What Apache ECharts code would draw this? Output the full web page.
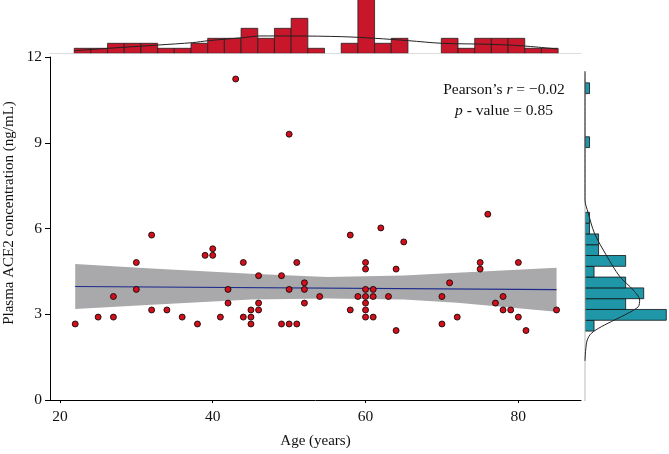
<!DOCTYPE html>
<html><head><meta charset="utf-8">
<script src="https://cdn.jsdelivr.net/npm/echarts@6/dist/echarts.min.js"></script>
<style>html,body{margin:0;padding:0;background:#fff}#c{width:669px;height:454px}</style>
</head><body><div id="c"></div>
<script>
// Scatter data
const ages   = [22,25,27,27,30,30,32,32,34,36,38,39,40,40,41,42,42,43,44,44,45,45,45,46,46,46,49,49,50,50,50,51,51,52,52,52,54,58,58,59,60,60,60,60,60,60,60,61,61,61,62,63,64,64,65,70,70,71,72,75,75,76,77,78,78,79,80,80,81,85];
const ace2   = [2.66,2.9,2.9,3.62,4.81,3.87,5.77,3.15,3.15,2.9,2.66,5.06,5.06,5.29,2.9,3.87,3.39,11.23,4.81,2.9,3.15,2.9,2.66,4.35,3.39,3.15,4.35,2.66,9.3,3.87,2.66,4.81,2.66,4.1,3.87,3.39,3.62,5.77,3.15,3.62,4.81,4.58,3.87,3.62,3.39,3.15,2.9,3.87,3.62,2.9,6.02,3.62,4.58,2.43,5.53,3.62,2.66,4.1,2.9,4.81,4.58,6.5,3.39,3.62,3.15,3.15,4.81,2.9,2.43,3.15];
// Regression line and confidence band
const fitAges = [22, 85];
const fitVals = [3.97, 3.86];
const bandAges = [22, 32, 45, 55, 65, 72, 85];
const bandLow  = [3.18, 3.33, 3.52, 3.55, 3.52, 3.40, 3.09];
const bandHigh = [4.76, 4.60, 4.42, 4.30, 4.36, 4.45, 4.63];
// Top marginal histogram (age)
const topBinStart = 21.87, topBinWidth = 2.184;
const topCounts = [1,1,2,2,2,1,1,2,3,3,5,3,5,7,1,0,2,11,2,3,0,0,3,1,3,3,3,1,1];
const topKdeAges = [21.88,26.33,32.97,37.34,39.43,43.9,46.2,50.57,56.9,61.27,65.63,70.0,76.33,80.7,85.07];
const topKdeVals = [0.53,1.0,1.67,2.13,2.53,3.13,3.47,3.47,3.33,3.0,2.53,2.0,1.8,1.47,0.87];
// Right marginal histogram (ACE2)
const rightBinStart = 2.44, rightBinWidth = 0.3765;
const rightCounts = [2,18,9,13,9,2,9,3,3,1,1,0,0,0,0,0,0,1,0,0,0,0,1];
const rightKdeVals = [11.5,7.01,6.58,5.85,5.09,4.34,3.87,3.52,3.29,3.06,2.83,2.59,2.36,2.13,1.78,1.4];
const rightKdeCnt  = [0,0,0.67,2.1,4.7,7.7,10.7,12.1,11.8,9.5,6.6,3.6,1.4,0.5,0.15,0];
// Axis ticks
const xTicks = [20,40,60,80];

const FONT = '"Liberation Serif","DejaVu Serif",serif';
const RED = '#c8162a', TEAL = '#1f97a8';

const topBins = topCounts.map((c,i)=>[topBinStart+i*topBinWidth, topBinStart+(i+1)*topBinWidth, c]);
const rightBins = rightCounts.map((c,i)=>[rightBinStart+i*rightBinWidth, rightBinStart+(i+1)*rightBinWidth, c]);

function rectTop(params, api){
  const c = api.value(2); if(!c) return null;
  const p0 = api.coord([api.value(0), c]), p1 = api.coord([api.value(1), 0]);
  return {type:'rect', shape:{x:p0[0], y:p0[1], width:p1[0]-p0[0], height:p1[1]-p0[1]},
    style:{fill:RED, stroke:'#222', lineWidth:0.8}};
}
function rectRight(params, api){
  const c = api.value(2); if(!c) return null;
  const p0 = api.coord([0, api.value(1)]), p1 = api.coord([c, api.value(0)]);
  return {type:'rect', shape:{x:p0[0], y:p0[1], width:p1[0]-p0[0], height:p1[1]-p0[1]},
    style:{fill:TEAL, stroke:'#111', lineWidth:0.8}};
}
function bandPoly(params, api){
  const pts = [];
  bandAges.forEach((a,i)=>pts.push(api.coord([a, bandHigh[i]])));
  for(let i=bandAges.length-1;i>=0;i--) pts.push(api.coord([bandAges[i], bandLow[i]]));
  return {type:'polygon', shape:{points:pts}, style:{fill:'#a9a9ab'}};
}

const chart = echarts.init(document.getElementById('c'), null, {renderer:'canvas'});
chart.setOption({
  animation:false,
  grid:[
    {left:50, top:57, width:531, height:344},
    {left:50, top:0, width:531, height:53.3},
    {left:585, top:57, width:84, height:344}
  ],
  xAxis:[
    {gridIndex:0, type:'value', min:18.7, max:88.2,
     axisLine:{lineStyle:{color:'#000', width:1}},
     axisTick:{show:true, length:3, lineStyle:{color:'#000'}, customValues: xTicks},
     axisLabel:{color:'#111', fontFamily:FONT, fontSize:15.5, margin:9, customValues: xTicks},
     splitLine:{show:false},
     name:'Age (years)', nameLocation:'middle', nameGap:34,
     nameTextStyle:{color:'#111', fontFamily:FONT, fontSize:15}},
    {gridIndex:1, type:'value', min:18.7, max:88.2, show:true,
     axisLine:{show:true, lineStyle:{color:'#dcdcdc'}}, axisTick:{show:false}, axisLabel:{show:false}, splitLine:{show:false}},
    {gridIndex:2, type:'value', min:0, max:18.6, show:false}
  ],
  yAxis:[
    {gridIndex:0, type:'value', min:0, max:12, interval:3,
     axisLine:{show:true, lineStyle:{color:'#000', width:1}},
     axisTick:{show:true, length:5, lineStyle:{color:'#000'}},
     axisLabel:{color:'#111', fontFamily:FONT, fontSize:15.5, margin:8},
     splitLine:{show:false}},
    {gridIndex:1, type:'value', min:0, max:10.67, show:false},
    {gridIndex:2, type:'value', min:0, max:12, show:false}
  ],
  graphic:[
    {type:'text', x:9, y:213, rotation:Math.PI/2,
     style:{text:'Plasma ACE2 concentration (ng/mL)', fontFamily:FONT, fontSize:15, fill:'#111', align:'center', verticalAlign:'middle'}},
    {type:'text', x:504, y:90,
     style:{text:'{n|Pearson\u2019s }{i|r}{n| = \u22120.02}', align:'center', verticalAlign:'middle',
       rich:{n:{fontFamily:FONT, fontSize:15.5, fill:'#111'}, i:{fontFamily:FONT, fontSize:15.5, fontStyle:'italic', fill:'#111'}}}},
    {type:'text', x:504, y:111,
     style:{text:'{i|p}{n| - value = 0.85}', align:'center', verticalAlign:'middle',
       rich:{n:{fontFamily:FONT, fontSize:15.5, fill:'#111'}, i:{fontFamily:FONT, fontSize:15.5, fontStyle:'italic', fill:'#111'}}}}
  ],
  series:[
    {type:'custom', xAxisIndex:0, yAxisIndex:0, renderItem:bandPoly, silent:true, z:1, data:[[0,0]]},
    {type:'line', xAxisIndex:0, yAxisIndex:0, symbol:'none', silent:true, z:2,
     lineStyle:{color:'#1d2c8c', width:1.2}, data: fitAges.map((a,i)=>[a, fitVals[i]])},
    {type:'scatter', xAxisIndex:0, yAxisIndex:0, symbolSize:6, z:3,
     itemStyle:{color:'#d0101c', borderColor:'#000', borderWidth:0.8, opacity:1},
     data: ages.map((a,i)=>[a, ace2[i]])},
    {type:'custom', xAxisIndex:1, yAxisIndex:1, renderItem:rectTop, clip:true, data: topBins},
    {type:'line', xAxisIndex:1, yAxisIndex:1, symbol:'none', smooth:0.3, silent:true,
     lineStyle:{color:'#222', width:1}, data: topKdeAges.map((a,i)=>[a, topKdeVals[i]])},
    {type:'line', xAxisIndex:2, yAxisIndex:2, symbol:'none', silent:true,
     lineStyle:{color:'#bbbbbb', width:1}, data:[[0,0],[0,11.5]]},
    {type:'custom', xAxisIndex:2, yAxisIndex:2, renderItem:rectRight, clip:true, data: rightBins},
    {type:'line', xAxisIndex:2, yAxisIndex:2, symbol:'none', smooth:0.3, silent:true,
     lineStyle:{color:'#222', width:1}, data: rightKdeVals.map((v,i)=>[rightKdeCnt[i], v])}
  ]
});
</script></body></html>
